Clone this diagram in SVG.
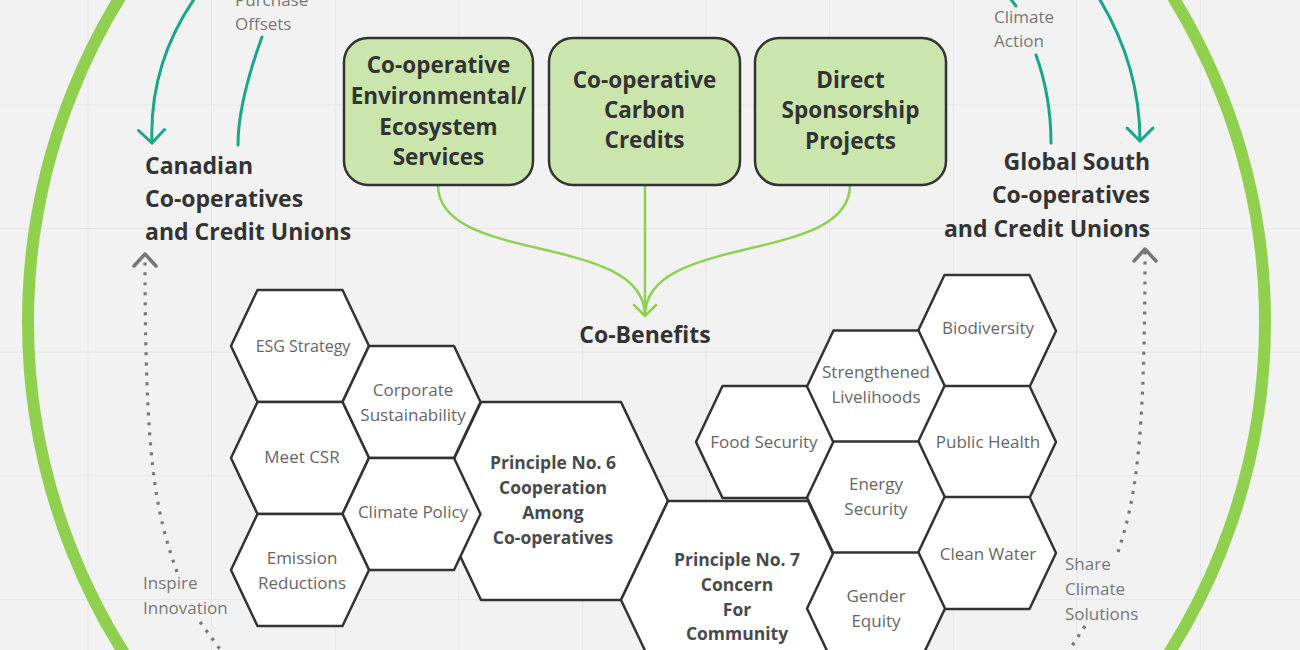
<svg xmlns="http://www.w3.org/2000/svg" xmlns:xlink="http://www.w3.org/1999/xlink" width="1300" height="650" viewBox="0 0 1300 650">
<style>
.bg{fill:#f2f2f2}
.grid{stroke:#e6e6e6;stroke-width:1;fill:none}
.ring{fill:none;stroke:#8fd14f;stroke-width:12}
.box{fill:#cae6ad;stroke:#333;stroke-width:2.5}
.hex{fill:#fff;stroke:#333;stroke-width:2.5;stroke-linejoin:round}
.tb{font-family:"Open Sans","Liberation Sans",sans-serif;font-weight:700;fill:#333;font-size:22.5px;text-anchor:middle}
.side{font-family:"Open Sans","Liberation Sans",sans-serif;font-weight:700;fill:#333;font-size:23px}
.hl{font-family:"Open Sans","Liberation Sans",sans-serif;fill:#666;font-size:17px;text-anchor:middle}
.pl{font-family:"Open Sans","Liberation Sans",sans-serif;font-weight:700;fill:#4a4a4a;font-size:17.5px;text-anchor:middle}
.sm{font-family:"Open Sans","Liberation Sans",sans-serif;fill:#777;font-size:17px}
.teal{fill:none;stroke:#19a78b;stroke-width:3;stroke-linecap:round}
.grn{fill:none;stroke:#8fd14f;stroke-width:2.5}
.dot{fill:none;stroke:#777;stroke-width:3.2;stroke-dasharray:3 7}
</style>
<defs>
<marker id="mTeal" markerUnits="userSpaceOnUse" markerWidth="34" markerHeight="34" viewBox="-17 -17 34 34" refX="0" refY="0" orient="auto"><path d="M-13,-13 L0,0 L-13,13" fill="none" stroke="#19a78b" stroke-width="3" stroke-linecap="round" stroke-linejoin="round"/></marker>
<marker id="mGrn" markerUnits="userSpaceOnUse" markerWidth="30" markerHeight="30" viewBox="-15 -15 30 30" refX="0" refY="0" orient="auto"><path d="M-11,-11 L0,0 L-11,11" fill="none" stroke="#8fd14f" stroke-width="2.5" stroke-linecap="round" stroke-linejoin="round"/></marker>
<marker id="mGray" markerUnits="userSpaceOnUse" markerWidth="30" markerHeight="30" viewBox="-15 -15 30 30" refX="0" refY="0" orient="auto"><path d="M-12,-11 L0,0 L-12,11" fill="none" stroke="#777" stroke-width="3.5" stroke-linecap="round" stroke-linejoin="round"/></marker>
<polygon id="hs" points="-42.5,-56 42.5,-56 69,0 42.5,56 -42.5,56 -69,0"/>
<polygon id="hb" points="-70,-99 70,-99 117,0 70,99 -70,99 -117,0"/>
</defs>
<rect class="bg" x="0" y="0" width="1300" height="650"/>
<g id="grid" class="grid">
<path d="M88,0V650M211.6,0V650M335.2,0V650M458.8,0V650M582.4,0V650M706,0V650M829.6,0V650M953.2,0V650M1076.8,0V650M1200.4,0V650"/>
<path d="M0,105H1300M0,228.6H1300M0,352.2H1300M0,475.8H1300M0,599.4H1300"/>
</g>
<circle id="ring" class="ring" cx="646.5" cy="322" r="618.5"/>

<g id="connectors">
<path class="teal" d="M197,-5 C165,40 150,90 152,143" marker-end="url(#mTeal)"/>
<path class="teal" d="M262,37 C250,70 238,110 238,145"/>
<path class="teal" d="M1097,-5 C1125,40 1140,90 1140,141" marker-end="url(#mTeal)"/>
<path class="teal" d="M1036,55 C1045,80 1051,110 1051,143"/>
<path class="teal" d="M1009,-3 L1016,6"/>
<path class="grn" d="M438,185 C438,265 645,232 645,316"/>
<path class="grn" d="M850,185 C850,265 645,232 645,316"/>
<path class="grn" d="M645,185 L645,316" marker-end="url(#mGrn)"/>
<path class="dot" d="M177,572 C155,510 145,460 145,254" marker-end="url(#mGray)"/>
<path class="dot" d="M200,622 L222,652"/>
<path class="dot" d="M1118,552 C1135,500 1145,450 1145,249" marker-end="url(#mGray)"/>
<path class="dot" d="M1085,626 L1068,652"/>
</g>

<g id="lbl-purchase"><text class="sm" x="235" y="6">Purchase</text><text class="sm" x="235" y="30">Offsets</text></g>
<g id="lbl-climate-action"><text class="sm" x="994" y="23">Climate</text><text class="sm" x="994" y="47">Action</text></g>
<g id="lbl-inspire"><text class="sm" x="143" y="589">Inspire</text><text class="sm" x="143" y="614">Innovation</text></g>
<g id="lbl-share"><text class="sm" x="1065" y="570">Share</text><text class="sm" x="1065" y="595">Climate</text><text class="sm" x="1065" y="620">Solutions</text></g>

<g id="canadian"><text class="side" x="145" y="174">Canadian</text><text class="side" x="145" y="207">Co-operatives</text><text class="side" x="145" y="240">and Credit Unions</text></g>
<g id="global-south"><text class="side" x="1150" y="170" text-anchor="end">Global South</text><text class="side" x="1150" y="203" text-anchor="end">Co-operatives</text><text class="side" x="1150" y="237" text-anchor="end">and Credit Unions</text></g>

<g id="box-ees"><rect class="box" x="344" y="38" width="189" height="147" rx="24"/>
<text class="tb" x="438.5" y="73">Co-operative</text><text class="tb" x="438.5" y="104">Environmental/</text><text class="tb" x="438.5" y="135">Ecosystem</text><text class="tb" x="438.5" y="165">Services</text></g>
<g id="box-carbon"><rect class="box" x="549" y="38" width="191" height="147" rx="24"/>
<text class="tb" x="644.5" y="88">Co-operative</text><text class="tb" x="644.5" y="118">Carbon</text><text class="tb" x="644.5" y="148">Credits</text></g>
<g id="box-direct"><rect class="box" x="755" y="38" width="191" height="147" rx="24"/>
<text class="tb" x="850.5" y="88">Direct</text><text class="tb" x="850.5" y="118">Sponsorship</text><text class="tb" x="850.5" y="149">Projects</text></g>

<g id="cobenefits"><text class="tb" x="645" y="343" style="font-size:23px">Co-Benefits</text></g>

<g id="principle6"><use xlink:href="#hb" class="hex" x="551" y="501"/>
<text class="pl" x="553" y="469">Principle No. 6</text><text class="pl" x="553" y="494">Cooperation</text><text class="pl" x="553" y="519">Among</text><text class="pl" x="553" y="544">Co-operatives</text></g>
<g id="principle7"><use xlink:href="#hb" class="hex" x="738" y="600"/>
<text class="pl" x="737" y="566">Principle No. 7</text><text class="pl" x="737" y="591">Concern</text><text class="pl" x="737" y="616">For</text><text class="pl" x="737" y="640">Community</text></g>

<g id="esg"><use xlink:href="#hs" class="hex" x="300" y="346"/><text class="hl" x="303" y="352" style="font-size:16px">ESG Strategy</text></g>
<g id="corporate"><use xlink:href="#hs" class="hex" x="411.5" y="402"/><text class="hl" x="413" y="396">Corporate</text><text class="hl" x="413" y="421">Sustainability</text></g>
<g id="meetcsr"><use xlink:href="#hs" class="hex" x="300" y="458"/><text class="hl" x="302" y="463">Meet CSR</text></g>
<g id="climatepolicy"><use xlink:href="#hs" class="hex" x="411.5" y="514"/><text class="hl" x="413" y="518">Climate Policy</text></g>
<g id="emission"><use xlink:href="#hs" class="hex" x="300" y="570"/><text class="hl" x="302" y="564">Emission</text><text class="hl" x="302" y="589">Reductions</text></g>

<g id="food"><use xlink:href="#hs" class="hex" x="765" y="442"/><text class="hl" x="764" y="448">Food Security</text></g>
<g id="biodiversity"><use xlink:href="#hs" class="hex" x="987" y="331"/><text class="hl" x="988" y="334">Biodiversity</text></g>
<g id="livelihoods"><use xlink:href="#hs" class="hex" x="876" y="386.5"/><text class="hl" x="876" y="378">Strengthened</text><text class="hl" x="876" y="403">Livelihoods</text></g>
<g id="publichealth"><use xlink:href="#hs" class="hex" x="987" y="442"/><text class="hl" x="988" y="448">Public Health</text></g>
<g id="energy"><use xlink:href="#hs" class="hex" x="876" y="497.5"/><text class="hl" x="876" y="490">Energy</text><text class="hl" x="876" y="515">Security</text></g>
<g id="cleanwater"><use xlink:href="#hs" class="hex" x="987" y="553"/><text class="hl" x="988" y="560">Clean Water</text></g>
<g id="gender"><use xlink:href="#hs" class="hex" x="876" y="608.5"/><text class="hl" x="876" y="602">Gender</text><text class="hl" x="876" y="627">Equity</text></g>
</svg>
